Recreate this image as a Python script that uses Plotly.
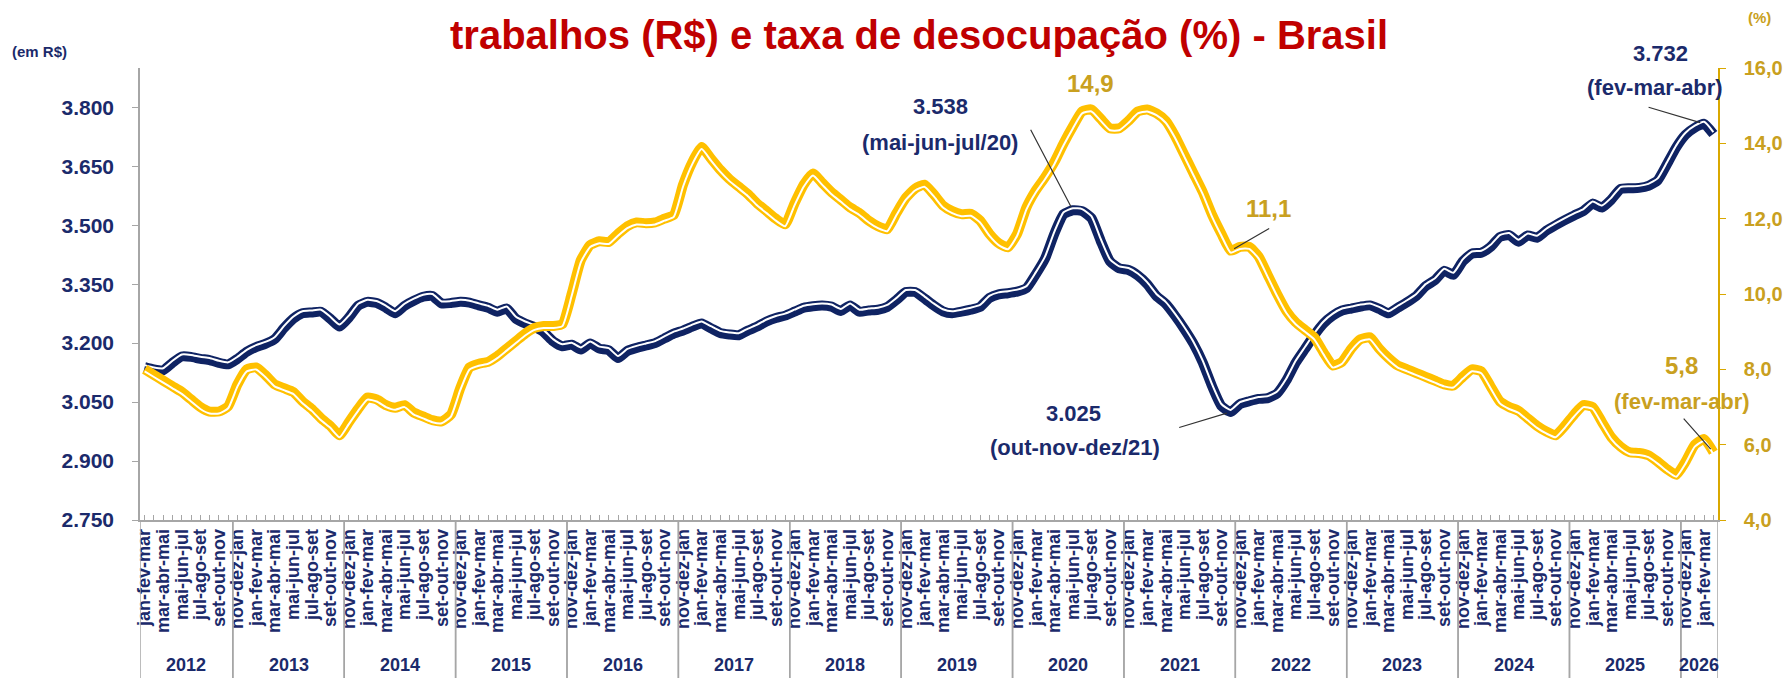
import plotly.graph_objects as go

# ---------------- data ----------------
months = ["jan", "fev", "mar", "abr", "mai", "jun", "jul", "ago", "set", "out", "nov", "dez"]
first_year = 2012
n_points = 170  # jan-fev-mar/2012 ... fev-mar-abr/2026

# rolling quarters (label = three months), assigned to the year of the last month
quarters = ["-".join(months[(s + k) % 12] for k in range(3)) for s in range(n_points)]
quarter_year = [first_year + (s + 2) // 12 for s in range(n_points)]

# rendimento médio real habitual (R$)
income = [
    3139, 3133, 3131, 3150, 3166, 3165, 3160, 3157, 3150, 3146,                     # 2012
    3160, 3178, 3190, 3198, 3210, 3238, 3262, 3276, 3278, 3280, 3262, 3242,         # 2013
    3265, 3295, 3305, 3302, 3290, 3276, 3295, 3308, 3318, 3320, 3301, 3302,         # 2014
    3305, 3303, 3296, 3290, 3280, 3288, 3262, 3250, 3241, 3228, 3205, 3192,         # 2015
    3196, 3184, 3199, 3186, 3182, 3162, 3180, 3188, 3194, 3200, 3212, 3224,         # 2016
    3232, 3242, 3250, 3238, 3226, 3222, 3220, 3232, 3242, 3255, 3264, 3270,         # 2017
    3280, 3290, 3294, 3296, 3293, 3282, 3296, 3280, 3283, 3285, 3292, 3310,         # 2018
    3330, 3330, 3314, 3296, 3281, 3276, 3280, 3285, 3292, 3315, 3324, 3327,         # 2019
    3331, 3340, 3375, 3415, 3478, 3528, 3538, 3536, 3518, 3460, 3408, 3390,         # 2020
    3386, 3372, 3350, 3320, 3300, 3270, 3236, 3198, 3150, 3090, 3040, 3025,         # 2021
    3045, 3052, 3058, 3060, 3072, 3105, 3150, 3185, 3220, 3250, 3270, 3283,         # 2022
    3288, 3293, 3296, 3287, 3276, 3290, 3304, 3320, 3345, 3360, 3384, 3374,         # 2023
    3408, 3428, 3430, 3445, 3470, 3475, 3458, 3474, 3468, 3486, 3500, 3513,         # 2024
    3525, 3536, 3555, 3545, 3565, 3592, 3594, 3595, 3600, 3614, 3655, 3698,         # 2025
    3730, 3748, 3758, 3732,                                                         # 2026
]

# taxa de desocupação (%)
unemployment = [
    8.0, 7.85, 7.7, 7.55, 7.4, 7.2, 7.0, 6.88, 6.88, 7.02,                          # 2012
    7.6, 8.0, 8.05, 7.85, 7.6, 7.5, 7.4, 7.15, 6.95, 6.7, 6.5, 6.25,                # 2013
    6.6, 6.95, 7.25, 7.2, 7.05, 6.98, 7.05, 6.85, 6.75, 6.65, 6.62, 6.8,            # 2014
    7.5, 8.05, 8.15, 8.2, 8.35, 8.55, 8.75, 8.95, 9.1, 9.15, 9.15, 9.2,             # 2015
    10.0, 10.9, 11.3, 11.4, 11.38, 11.6, 11.8, 11.9, 11.88, 11.9, 12.0, 12.1,       # 2016
    12.9, 13.5, 13.9, 13.6, 13.3, 13.05, 12.85, 12.65, 12.4, 12.2, 12.0, 11.85,     # 2017
    12.4, 12.9, 13.2, 12.95, 12.7, 12.5, 12.3, 12.15, 11.95, 11.8, 11.72, 12.15,    # 2018
    12.55, 12.8, 12.9, 12.65, 12.35, 12.2, 12.12, 12.13, 11.95, 11.6, 11.35, 11.24, # 2019
    11.6, 12.3, 12.75, 13.1, 13.5, 14.0, 14.45, 14.85, 14.9, 14.65, 14.4, 14.4,     # 2020
    14.6, 14.85, 14.9, 14.8, 14.6, 14.2, 13.7, 13.2, 12.7, 12.1, 11.6, 11.15,       # 2021
    11.25, 11.25, 11.0, 10.5, 10.0, 9.55, 9.25, 9.05, 8.85, 8.45, 8.1, 8.2,         # 2022
    8.55, 8.8, 8.85, 8.55, 8.3, 8.1, 8.0, 7.9, 7.8, 7.7, 7.6, 7.57,                 # 2023
    7.8, 8.0, 7.95, 7.55, 7.15, 7.0, 6.9, 6.7, 6.5, 6.35, 6.25, 6.5,                # 2024
    6.8, 7.05, 7.0, 6.6, 6.2, 5.95, 5.8, 5.78, 5.72, 5.55, 5.35, 5.2,               # 2025
    5.55, 6.0, 6.15, 5.8,                                                           # 2026
]

left_ticks = [2750, 2900, 3050, 3200, 3350, 3500, 3650, 3800]
left_ticktext = ["2.750", "2.900", "3.050", "3.200", "3.350", "3.500", "3.650", "3.800"]
right_ticks = [4, 6, 8, 10, 12, 14, 16]
right_ticktext = ["4,0", "6,0", "8,0", "10,0", "12,0", "14,0", "16,0"]

title_text = "trabalhos (R$) e taxa de desocupação (%) - Brasil"

# ---------------- style ----------------
NAVY = "#0F2363"
NAVY_TXT = "#1B2A6B"
GOLD_LINE = "#FFC000"
GOLD_TXT = "#C9A020"
RED = "#C00000"
GRAY = "#A6A6A6"
FONT = "Liberation Sans Narrow, Arial Narrow, Liberation Sans, Arial, sans-serif"

W, H = 1791, 678
L, R, T, B = 140, 73, 68, 158
PW, PH = W - L - R, H - T - B

def px(x):
    return (x - L) / PW

def py(y):
    return (H - B - y) / PH

x = list(range(n_points))
lo_l, hi_l = 2750, 3900
lo_r, hi_r = 4, 16
k_l = (hi_l - lo_l) / PH
k_r = (hi_r - lo_r) / PH
shift = 2  # px offset of the thin white stripe

fig = go.Figure()
fig.add_trace(go.Scatter(x=x, y=income, mode="lines", yaxis="y",
                         line=dict(color=NAVY, width=10, shape="spline", smoothing=0.5),
                         hoverinfo="skip", showlegend=False))
fig.add_trace(go.Scatter(x=x, y=income, mode="lines", yaxis="y2",
                         line=dict(color="white", width=2, shape="spline", smoothing=0.5),
                         hoverinfo="skip", showlegend=False))
fig.add_trace(go.Scatter(x=x, y=unemployment, mode="lines", yaxis="y3",
                         line=dict(color=GOLD_LINE, width=10, shape="spline", smoothing=0.5),
                         hoverinfo="skip", showlegend=False))
fig.add_trace(go.Scatter(x=x, y=unemployment, mode="lines", yaxis="y4",
                         line=dict(color="white", width=2, shape="spline", smoothing=0.5),
                         hoverinfo="skip", showlegend=False))

tickvals = x
ticktext = [q if i % 2 == 0 else "" for i, q in enumerate(quarters)]

fig.update_layout(
    width=W, height=H,
    margin=dict(l=L, r=R, t=T, b=B, autoexpand=False),
    paper_bgcolor="white", plot_bgcolor="white",
    xaxis=dict(range=[-0.5, n_points - 0.5], tickmode="array", tickvals=tickvals,
               ticktext=ticktext, tickangle=-90, ticks="inside", ticklen=5,
               tickcolor=GRAY, tickwidth=1, showline=True, linecolor=GRAY, linewidth=1.5,
               showgrid=False, zeroline=False, automargin=False,
               tickfont=dict(family=FONT, size=18, color=NAVY_TXT, weight="bold")),
    yaxis=dict(range=[lo_l, hi_l], tickmode="array", tickvals=left_ticks,
               ticktext=left_ticktext, ticks="outside", ticklen=6, tickcolor=GRAY,
               showline=True, linecolor=GRAY, linewidth=1.5, showgrid=False, zeroline=False,
               ticklabelstandoff=14, automargin=False,
               tickfont=dict(family=FONT, size=21, color=NAVY_TXT, weight="bold")),
    yaxis2=dict(range=[lo_l - shift * k_l, hi_l - shift * k_l], overlaying="y",
                visible=False, showgrid=False, zeroline=False, automargin=False),
    yaxis3=dict(range=[lo_r, hi_r], overlaying="y", side="right", tickmode="array",
                tickvals=right_ticks, ticktext=right_ticktext, ticks="outside", ticklen=6,
                tickcolor="#D9A800", showline=True, linecolor="#D9A800", linewidth=1.5,
                showgrid=False, zeroline=False, ticklabelstandoff=14, automargin=False,
                tickfont=dict(family=FONT, size=20, color=GOLD_TXT, weight="bold")),
    yaxis4=dict(range=[lo_r + shift * k_r, hi_r + shift * k_r], overlaying="y",
                visible=False, showgrid=False, zeroline=False, automargin=False),
)

# year groups: separators and labels
years = sorted(set(quarter_year))
shapes = []
annotations = []
bottom = py(H)
for yr in years:
    idx = [i for i, v in enumerate(quarter_year) if v == yr]
    a, b = idx[0] - 0.5, idx[-1] + 0.5
    for xv in (a, b):
        shapes.append(dict(type="line", xref="x", yref="paper", x0=xv, x1=xv,
                           y0=0, y1=bottom, line=dict(color=GRAY, width=1.5)))
    annotations.append(dict(xref="x", yref="paper", x=(a + b) / 2, y=py(665),
                            text=str(yr), showarrow=False, yanchor="middle",
                            font=dict(family=FONT, size=18, color=NAVY_TXT, weight="bold")))

def txt(text, x0, y0, color, size):
    annotations.append(dict(xref="paper", yref="paper", x=px(x0), y=py(y0), text=text,
                            showarrow=False, xanchor="center", yanchor="middle",
                            font=dict(family=FONT, size=size, color=color, weight="bold")))

def leader(i, series, yref, ax, ay):
    annotations.append(dict(xref="x", yref=yref, x=i, y=series[i], text="", showarrow=True,
                            arrowhead=0, arrowwidth=1.2, arrowcolor="#333333",
                            ax=ax, ay=ay, standoff=4))

txt(title_text, 919, 35, RED, 40)
txt("(em R$)", 40, 51, NAVY_TXT, 15)
txt("(%)", 1759, 17, GOLD_TXT, 15)

txt("3.538", 940, 107, NAVY_TXT, 22)
txt("(mai-jun-jul/20)", 940, 142, NAVY_TXT, 22)
leader(100, income, "y", -43, -82)

txt("14,9", 1090, 83, GOLD_TXT, 24)

txt("11,1", 1268, 208, GOLD_TXT, 24)
leader(117, unemployment, "y3", 40, -23)

txt("3.025", 1073, 413, NAVY_TXT, 22)
txt("(out-nov-dez/21)", 1075, 447, NAVY_TXT, 22)
leader(117, income, "y", -53, 16)

txt("3.732", 1660, 53, NAVY_TXT, 22)
txt("(fev-mar-abr)", 1655, 88, NAVY_TXT, 22)
leader(168, income, "y", -57, -17)

txt("5,8", 1681, 365, GOLD_TXT, 24)
txt("(fev-mar-abr)", 1682, 402, GOLD_TXT, 22)
leader(169, unemployment, "y3", -31, -35)

fig.update_layout(shapes=shapes, annotations=annotations)
fig.write_html("out.html", config={"displayModeBar": False},
               post_script="document.body.style.margin='0px';document.body.style.overflow='hidden';")
